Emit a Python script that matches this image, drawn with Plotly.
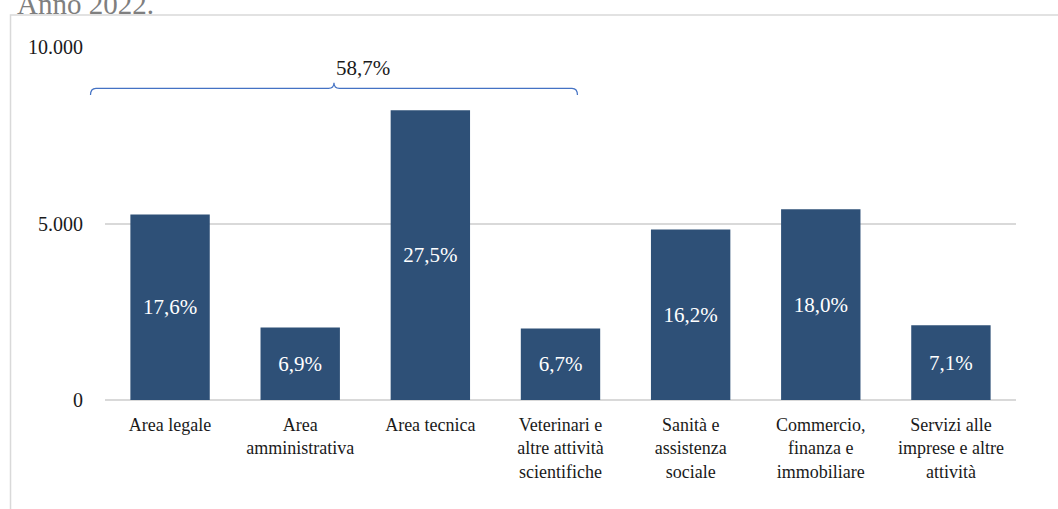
import plotly.graph_objects as go

categories = ["Area legale", "Area<br>amministrativa", "Area tecnica",
              "Veterinari e<br>altre attività<br>scientifiche",
              "Sanità e<br>assistenza<br>sociale",
              "Commercio,<br>finanza e<br>immobiliare",
              "Servizi alle<br>imprese e altre<br>attività"]
values = [5255, 2052, 8211, 2024, 4830, 5405, 2117]
shares = ["17,6%", "6,9%", "27,5%", "6,7%", "16,2%", "18,0%", "7,1%"]
bracket_label = "58,7%"
y_ticks = [0, 5000, 10000]
title_text = "Anno 2022."

FONT = "Liberation Serif, Times New Roman, serif"
W, H = 1058, 509
# plot area in page pixels
PX0, PX1, PY0, PY1 = 104.5, 1015.6, 47.0, 399.7
L, T = PX0, PY0
R, B = W - PX1, H - PY1
pw, ph = PX1 - PX0, PY1 - PY0


def px_x(x):  # page pixel -> paper x
    return (x - PX0) / pw


def px_y(y):  # page pixel -> paper y
    return (PY1 - y) / ph


fig = go.Figure(go.Bar(
    x=categories, y=values, text=shares,
    textposition="inside", insidetextanchor="middle",
    textfont=dict(family=FONT, size=21, color="white"),
    marker=dict(color="#2E5077", line=dict(width=0)),
    hoverinfo="x+y", textangle=0,
))

# curly bracket over first four categories (paper coords, not clipped)
bx0, bx1, bxm = px_x(90), px_x(577), px_x(333.5)
by_low, by_mid, by_top = px_y(95), px_y(88.3), px_y(82.7)
d = 0.006
path = (f"M {bx0},{by_low} Q {bx0},{by_mid} {bx0+d},{by_mid} L {bxm-d},{by_mid} "
        f"Q {bxm},{by_mid} {bxm},{by_top} Q {bxm},{by_mid} {bxm+d},{by_mid} "
        f"L {bx1-d},{by_mid} Q {bx1},{by_mid} {bx1},{by_low}")
fig.add_shape(type="path", path=path, xref="paper", yref="paper",
              line=dict(color="#4472C4", width=1.2))
fig.add_annotation(x=bxm, y=9400, xref="paper", yref="y", text=bracket_label,
                   showarrow=False, font=dict(family=FONT, size=21, color="#1a1a1a"))

# outer border
fig.add_shape(type="rect", xref="paper", yref="paper",
              x0=px_x(10), x1=px_x(1070), y0=px_y(520), y1=px_y(15),
              line=dict(color="#d9d9d9", width=1.5), fillcolor="rgba(0,0,0,0)",
              layer="below")

# cut-off title
fig.add_annotation(x=px_x(14), y=px_y(22), xref="paper", yref="paper",
                   xanchor="left", yanchor="bottom", text=title_text, showarrow=False,
                   font=dict(family=FONT, size=29, color="#7f7f7f"))

fig.update_layout(
    width=W, height=H,
    margin=dict(l=L, r=R, t=T, b=B, pad=0),
    paper_bgcolor="white", plot_bgcolor="white",
    separators=",.",
    bargap=0.39,
    showlegend=False,
    font=dict(family=FONT, size=18, color="#1a1a1a"),
    xaxis=dict(range=[-0.5, 6.5], showline=False, showgrid=False, ticks="", tickangle=0,
               ticklabelstandoff=12,
               tickfont=dict(family=FONT, size=18, color="#1a1a1a")),
    yaxis=dict(range=[0, 10000], tickvals=y_ticks, tickformat=",d",
               showgrid=True, gridcolor="#d9d9d9", gridwidth=1.5,
               zeroline=True, zerolinecolor="#d9d9d9", zerolinewidth=1.5,
               showline=False, ticks="", ticklabelstandoff=21,
               tickfont=dict(family=FONT, size=20, color="#1a1a1a")),
)

fig.write_html("out.html", config={"displayModeBar": False},
               post_script="document.body.style.margin='0';")
